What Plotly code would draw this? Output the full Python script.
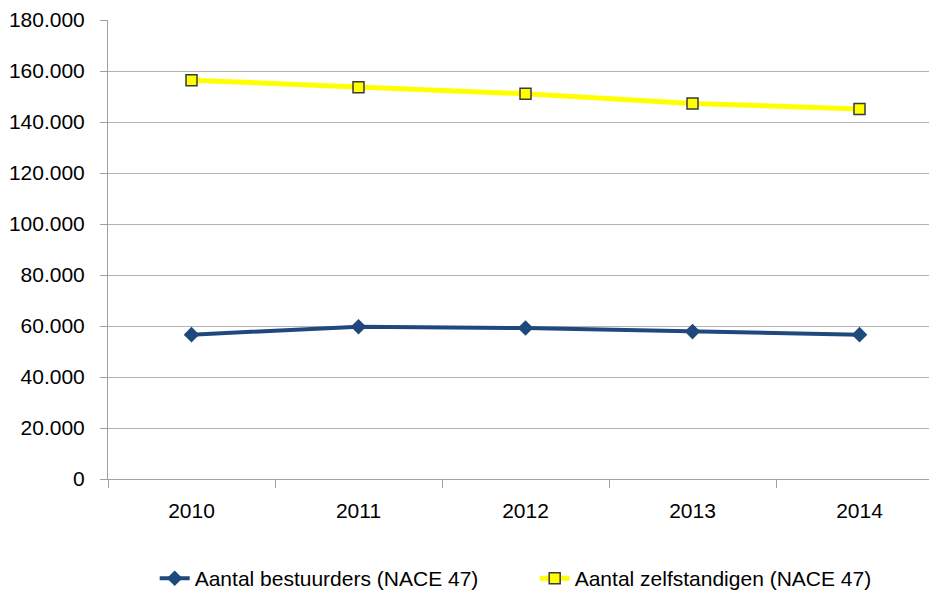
import plotly.graph_objects as go

years = ["2010", "2011", "2012", "2013", "2014"]
bestuurders = [56600, 59700, 59200, 57800, 56600]
zelfstandigen = [156400, 153650, 151050, 147300, 145100]
name_best = "Aantal bestuurders (NACE 47)"
name_zelf = "Aantal zelfstandigen (NACE 47)"

fig = go.Figure()
fig.add_trace(go.Scatter(
    x=years, y=bestuurders, name=name_best, mode="lines+markers",
    line=dict(color="#1F497D", width=4),
    marker=dict(symbol="diamond", size=12, color="#1F497D"),
))
fig.add_trace(go.Scatter(
    x=years, y=zelfstandigen, name=name_zelf, mode="lines+markers",
    line=dict(color="#FFFF00", width=5),
    marker=dict(symbol="square", size=11, color="#FFFF00",
                line=dict(color="#3A3A3A", width=1.5)),
))

font = dict(family="Liberation Sans, Arial, sans-serif", size=21, color="#000000")

fig.update_layout(
    width=937, height=594,
    margin=dict(l=100, r=2, t=12, b=123),
    paper_bgcolor="white", plot_bgcolor="white",
    separators=",.",
    font=font,
    showlegend=True,
    legend=dict(orientation="h", x=0.511, xanchor="center", y=-0.217, yanchor="middle",
                font=font, entrywidth=335, traceorder="normal"),
    xaxis=dict(type="category", range=[-0.5, 4.5], showgrid=False, automargin=False,
               showline=True, linecolor="#A0A0A0", linewidth=1,
               ticks="outside", tickson="boundaries", ticklen=8, tickcolor="#A0A0A0",
               tickfont=font, ticklabelstandoff=13),
    yaxis=dict(range=[0, 180000], dtick=20000, tickformat=",d", automargin=False,
               showgrid=True, gridcolor="#B4B4B4", gridwidth=1,
               showline=True, linecolor="#A0A0A0", linewidth=1,
               ticks="outside", ticklen=7, tickcolor="#A0A0A0",
               tickfont=font, ticklabelstandoff=11, zeroline=False),
)

fig.write_html("out.html")
